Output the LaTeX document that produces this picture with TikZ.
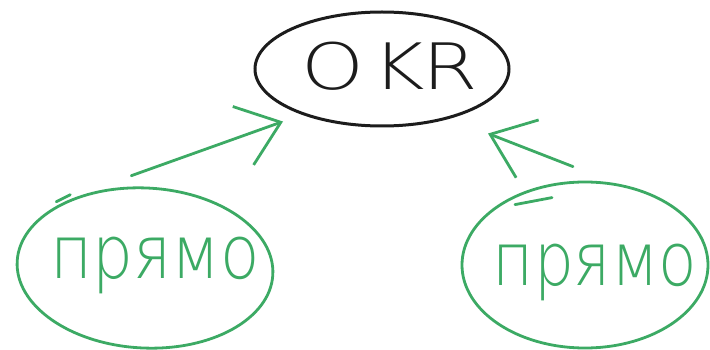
\documentclass[tikz,border=0pt]{standalone}
\usepackage{fontspec}
\setmainfont{DejaVu Sans ExtraLight}
\usetikzlibrary{shapes.geometric,arrows.meta}
\definecolor{sketchgreen}{RGB}{60,170,100}
\definecolor{sketchblack}{RGB}{28,28,28}
\tikzset{
  okrbox/.style={draw=sketchblack, line width=3pt, ellipse, inner sep=0pt,
    minimum width=254pt, minimum height=114pt},
  greenbox/.style={draw=sketchgreen, line width=2.8pt, ellipse, inner sep=0pt},
  greentext/.style={text=sketchgreen, font=\fontsize{74}{74}\selectfont},
  greenarrow/.style={draw=sketchgreen, line width=2.8pt, line cap=round,
    -{Straight Barb[length=40pt, width=62pt, line width=2.8pt]}},
  greenstroke/.style={draw=sketchgreen, line width=2.8pt, line cap=round}
}
\begin{document}
\begin{tikzpicture}[x=1pt,y=-1pt]
\useasboundingbox (0,0) rectangle (710,350);
\node[okrbox] (okr) at (382,69) {};
\node[text=sketchblack, font=\fontsize{64}{64}\selectfont] (okrtext) at (390,66) {\scalebox{1.25}[1]{O\hspace{6pt}K\hspace{-2pt}R}};
\node[greenbox, minimum width=256pt, minimum height=160pt, rotate=-3] (left) at (145,268) {};
\node[greentext] (lefttext) at (155,265) {\scalebox{0.87}[1]{прямо}};
\node[greenbox, minimum width=246pt, minimum height=166pt] (right) at (585,265) {};
\node[greentext] (righttext) at (595,272) {\scalebox{0.85}[1]{прямо}};
\draw[greenarrow] ([xshift=-18pt,yshift=11pt]left.north) -- ([xshift=-99pt,yshift=6pt]okr.south);
\draw[greenarrow] ([xshift=-12pt,yshift=14pt]right.north) -- ([xshift=106pt,yshift=-6pt]okr.south);
\draw[greenstroke] ([xshift=-93pt,yshift=-15pt]left.north) -- ([xshift=-79pt,yshift=-8pt]left.north);
\draw[greenstroke] ([xshift=-70pt,yshift=-24pt]right.north) -- ([xshift=-33pt,yshift=-17pt]right.north);
\end{tikzpicture}
\end{document}
